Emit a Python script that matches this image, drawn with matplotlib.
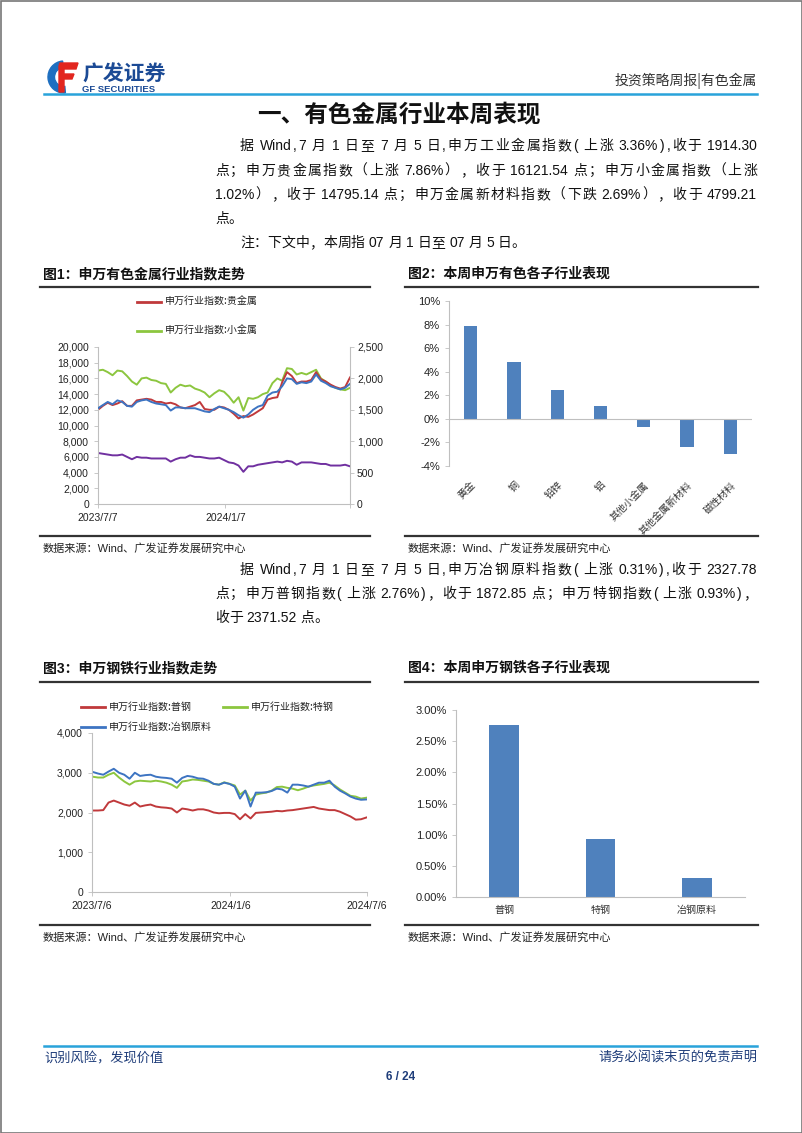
import re
import numpy as np
import pandas as pd
import matplotlib
matplotlib.use("Agg")
import matplotlib.pyplot as plt
from matplotlib.lines import Line2D
from matplotlib.patches import Wedge, Polygon, Rectangle
from matplotlib.font_manager import FontProperties
from matplotlib.ticker import FuncFormatter

# ---------------- data ----------------
dates = pd.date_range("2023-07-07", "2024-07-05", freq="7D")

nf_precious = [12000,12500,12900,12600,12800,13100,12500,12500,13200,13300,13400,13300,13000,13000,12800,12900,12700,12300,12200,12400,12600,13000,12100,12000,12000,12400,12300,12000,11500,10900,11200,11100,11400,11800,12200,13300,13500,13600,15500,16800,16300,15400,15600,15600,15800,16800,15900,15600,15200,14900,14700,14900,16121]
nf_minor = [17000,17100,16800,16400,17000,16900,16300,15600,15200,16000,16100,15800,15700,15400,15300,14200,14800,15200,15000,15100,14700,14500,14200,13600,14100,14500,14300,13700,12900,13600,11900,13500,13400,13600,14000,14200,15400,16000,15700,17300,17200,16500,16700,16500,16800,17100,16000,15600,15100,14800,14600,14500,14795]
nf_industrial = [1525,1575,1625,1588,1650,1625,1563,1550,1625,1650,1663,1625,1600,1588,1575,1488,1538,1538,1525,1525,1525,1500,1475,1463,1513,1550,1525,1500,1463,1413,1375,1425,1500,1550,1575,1725,1775,1788,1875,2000,1988,1913,1938,1925,1950,2063,1963,1925,1875,1850,1825,1850,1914]
nf_newmat = [6500,6400,6300,6200,6200,6300,6000,5700,6000,5900,5900,5800,5800,5800,5800,5400,5700,5900,5900,6200,6000,6000,5900,5800,5800,5900,5600,5300,5200,4900,4100,4800,4800,5000,5100,5200,5300,5400,5300,5500,5400,5000,5300,5300,5300,5200,5100,5100,4900,4900,4900,5000,4799]

st_common = [2050,2050,2060,2250,2300,2250,2200,2170,2250,2150,2180,2200,2150,2130,2120,2100,2000,2100,2080,2050,2080,2080,2050,2000,1980,1990,1990,1960,1830,1960,1850,1990,2000,2010,2020,2040,2030,2050,2060,2080,2100,2120,2140,2100,2080,2060,2060,2020,1960,1900,1820,1830,1873]
st_special = [2900,2880,2880,2950,3000,2880,2780,2700,2780,2800,2790,2780,2800,2780,2750,2700,2620,2780,2800,2830,2820,2800,2780,2720,2700,2760,2720,2680,2450,2550,2300,2450,2480,2500,2550,2640,2650,2620,2600,2560,2600,2650,2680,2700,2720,2750,2680,2580,2500,2420,2400,2350,2371]
st_raw = [3020,2980,2950,3030,3100,3000,2950,2850,3000,2920,2940,2950,2900,2880,2870,2850,2750,2870,2920,2900,2860,2850,2800,2720,2700,2750,2720,2650,2350,2550,2150,2500,2500,2510,2540,2600,2580,2500,2700,2700,2680,2650,2700,2750,2750,2800,2650,2550,2480,2400,2350,2320,2328]

nf_cats = ["黄金", "铜", "铅锌", "铝", "其他小金属", "其他金属新材料", "磁性材料"]
nf_week = [7.90, 4.80, 2.45, 1.05, -0.65, -2.40, -2.95]

st_cats = ["普钢", "特钢", "冶钢原料"]
st_week = [2.76, 0.93, 0.31]

legend1 = ["申万行业指数:贵金属", "申万行业指数:小金属"]
legend3 = ["申万行业指数:普钢", "申万行业指数:特钢", "申万行业指数:冶钢原料"]

# ---------------- setup ----------------
W, H = 802, 1133
fig = plt.figure(figsize=(W / 100, H / 100), dpi=100)
MIX = ["Liberation Sans", "Noto Sans CJK SC"]
CJK = ["Noto Sans CJK SC", "DejaVu Sans"]
plt.rcParams["font.family"] = MIX

RED = "#C0393B"
GREEN = "#8CC63F"
BLUE = "#3D74C2"
PURPLE = "#7030A0"
BAR = "#4F81BD"
GRID = "#BFBFBF"
NAVY = "#1F3D7A"


def T(x, y, s, **kw):
    return fig.text(x / W, 1 - y / H, s, **kw)


def L(x0, y0, x1, y1, **kw):
    fig.add_artist(Line2D([x0 / W, x1 / W], [1 - y0 / H, 1 - y1 / H],
                          transform=fig.transFigure, **kw))


def AX(x0, y0, x1, y1):
    return fig.add_axes([x0 / W, 1 - y1 / H, (x1 - x0) / W, (y1 - y0) / H])


renderer = fig.canvas.get_renderer()


def justify(s, x0, x1, y, size=10, color="#111111"):
    fp = FontProperties(family=MIX, size=size)
    sp = size * 100 / 72 * 0.28
    raw = re.findall(r"[A-Za-z0-9.%]+|\s|.", s)
    toks, pre = [], []
    pending = 0.0
    for t in raw:
        if t.isspace():
            pending += sp
        else:
            toks.append(t)
            pre.append(pending)
            pending = 0.0
    ws = [renderer.get_text_width_height_descent(t, fp, ismath=False)[0] for t in toks]
    total = sum(ws) + sum(pre[1:])
    gap = (x1 - x0 - total) / (len(toks) - 1) if x1 else 0.0
    x = x0
    for i, (t, w) in enumerate(zip(toks, ws)):
        if i > 0:
            x += pre[i] + gap
        T(x, y, t, fontproperties=fp, color=color, va="baseline", ha="left")
        x += w


# ---------------- page frame ----------------
fig.add_artist(Rectangle((0.5 / W, 0.5 / H), (W - 1) / W, (H - 1) / H,
                         transform=fig.transFigure, fill=False, ec="#777777", lw=1.2))

# header
lax = fig.add_axes([45 / W, 1 - 94 / H, 35 / W, 37 / H])
lax.set_xlim(0, 35)
lax.set_ylim(0, 37)
lax.axis("off")
lax.add_patch(Wedge((19, 17), 16, 95, 275, width=6.5, color="#1E6FC0"))
lax.add_patch(Polygon([[15, 31], [33, 31], [31, 25], [19, 25], [19, 20], [29, 20],
                       [27, 15], [19, 15], [19, 2], [14, 2], [14, 28]], color="#E2261F"))
T(82, 81, "广发证券", family=CJK, fontsize=15, weight="bold", color="#1B4A95")
T(82, 92, "GF SECURITIES", family="Liberation Sans", fontsize=6.8, weight="bold", color="#1B4A95")
T(757, 85, "投资策略周报|有色金属", family=CJK, fontsize=10, color="#333333", ha="right")
L(44, 94, 757, 94, color="#29A3DA", lw=1.8)

# section heading
T(399, 121, "一、有色金属行业本周表现", family=CJK, fontsize=17, weight="bold", ha="center", color="#111111")

# paragraph 1
justify("据 Wind,7 月 1 日至 7 月 5 日,申万工业金属指数( 上涨 3.36%),收于 1914.30", 240, 757, 150)
justify("点；申万贵金属指数（上涨 7.86%），收于 16121.54 点；申万小金属指数（上涨", 215, 757, 175)
justify("1.02%），收于 14795.14 点；申万金属新材料指数（下跌 2.69%），收于 4799.21", 215, 757, 199)
justify("点。", 215, None, 223)
justify("注：下文中，本周指 07 月 1 日至 07 月 5 日。", 240, None, 247)

# paragraph 2
justify("据 Wind,7 月 1 日至 7 月 5 日,申万冶钢原料指数( 上涨 0.31%),收于 2327.78", 240, 757, 574)
justify("点；申万普钢指数( 上涨 2.76%)，收于 1872.85 点；申万特钢指数( 上涨 0.93%)，", 215, 757, 598)
justify("收于 2371.52 点。", 215, None, 622)

# chart frames/titles
for (x0, x1, ytitle, yl0, yl1, title) in [
    (40, 370, 278, 287, 536, "图1：申万有色金属行业指数走势"),
    (405, 758, 278, 287, 536, "图2：本周申万有色各子行业表现"),
    (40, 370, 672, 682, 925, "图3：申万钢铁行业指数走势"),
    (405, 758, 672, 682, 925, "图4：本周申万钢铁各子行业表现"),
]:
    T(x0 + 3, ytitle, title, family=MIX, fontsize=10, weight="bold", color="#111111")
    L(x0, yl0, x1, yl0, color="#333333", lw=1.6)
    L(x0, yl1, x1, yl1, color="#333333", lw=1.6)
    T(x0 + 3, yl1 + 16, "数据来源：Wind、广发证券发展研究中心", family=MIX, fontsize=8, color="#222222")

TICK = dict(labelsize=7.5, colors="#222222", length=3, width=0.6)


def style_spines(ax, left=True, right=False, bottom=True):
    for k, v in ax.spines.items():
        v.set_visible(False)
    for k, on in (("left", left), ("right", right), ("bottom", bottom)):
        if on:
            ax.spines[k].set_visible(True)
            ax.spines[k].set_color(GRID)
            ax.spines[k].set_linewidth(0.8)


comma = FuncFormatter(lambda v, p: f"{int(v):,}")

# ---------------- chart 1 ----------------
ax1 = AX(98, 347, 350, 504)
ax1.plot(dates, nf_minor, color=GREEN, lw=1.4)
ax1.plot(dates, nf_precious, color=RED, lw=1.4)
ax1.plot(dates, nf_newmat, color=PURPLE, lw=1.4)
ax1.set_ylim(0, 20000)
ax1.set_yticks(range(0, 20001, 2000))
ax1.yaxis.set_major_formatter(comma)
ax1.set_xlim(pd.Timestamp("2023-07-07"), pd.Timestamp("2024-07-05"))
ax1.set_xticks([pd.Timestamp("2023-07-07"), pd.Timestamp("2024-01-07"), pd.Timestamp("2024-07-05")])
ax1.set_xticklabels(["2023/7/7", "2024/1/7", ""])
ax1.tick_params(axis="both", **TICK)
ax1.tick_params(axis="x", colors=GRID, labelcolor="#222222")
ax1.tick_params(axis="y", colors=GRID, labelcolor="#222222")
style_spines(ax1, left=True, right=False, bottom=True)
ax1.set_facecolor("none")
ax1r = ax1.twinx()
ax1r.plot(dates, nf_industrial, color=BLUE, lw=1.4)
ax1r.set_ylim(0, 2500)
ax1r.set_yticks(range(0, 2501, 500))
ax1r.yaxis.set_major_formatter(comma)
ax1r.tick_params(axis="y", **TICK)
ax1r.tick_params(axis="y", colors=GRID, labelcolor="#222222", pad=2)
style_spines(ax1r, left=False, right=True, bottom=False)

# legend 1
for i, (lab, col) in enumerate(zip(legend1, [RED, GREEN])):
    y = 302 + 29 * i
    L(137, y, 161, y, color=col, lw=2)
    T(165, y, lab, family=CJK, fontsize=7.2, va="center", color="#222222")

# ---------------- chart 2 ----------------
ax2 = AX(449, 301, 752, 466)
x2 = np.arange(len(nf_cats))
ax2.bar(x2, nf_week, width=0.31, color=BAR)
ax2.set_xlim(-0.5, len(nf_cats) - 0.5)
ax2.set_ylim(-4, 10)
ax2.set_yticks(range(-4, 11, 2))
ax2.yaxis.set_major_formatter(FuncFormatter(lambda v, p: f"{int(v)}%"))
ax2.axhline(0, color=GRID, lw=0.8)
ax2.set_xticks(x2)
ax2.set_xticklabels(nf_cats, rotation=45, ha="right", rotation_mode="anchor",
                    family=CJK, fontsize=7.2, color="#333333")
ax2.tick_params(axis="x", length=0, pad=10)
ax2.tick_params(axis="y", labelsize=8, colors=GRID, labelcolor="#222222", length=3, width=0.6)
style_spines(ax2, left=True, bottom=False)

# ---------------- chart 3 ----------------
ax3 = AX(92, 733, 367, 892)
ax3.plot(dates, st_common, color=RED, lw=1.4)
ax3.plot(dates, st_special, color=GREEN, lw=1.4)
ax3.plot(dates, st_raw, color=BLUE, lw=1.4)
ax3.set_ylim(0, 4000)
ax3.set_yticks(range(0, 4001, 1000))
ax3.yaxis.set_major_formatter(comma)
ax3.set_xlim(pd.Timestamp("2023-07-06"), pd.Timestamp("2024-07-06"))
ax3.set_xticks([pd.Timestamp("2023-07-06"), pd.Timestamp("2024-01-06"), pd.Timestamp("2024-07-06")])
ax3.set_xticklabels(["2023/7/6", "2024/1/6", "2024/7/6"])
ax3.tick_params(axis="both", **TICK)
ax3.tick_params(axis="both", colors=GRID, labelcolor="#222222")
style_spines(ax3, left=True, bottom=True)
ax3.set_facecolor("none")

for (lab, col, x, y) in zip(legend3, [RED, GREEN, BLUE], [81, 223, 81], [707, 707, 727]):
    L(x, y, x + 24, y, color=col, lw=2)
    T(x + 28, y, lab, family=CJK, fontsize=7.2, va="center", color="#222222")

# ---------------- chart 4 ----------------
ax4 = AX(456, 710, 745, 897)
x4 = np.arange(len(st_cats))
ax4.bar(x4, st_week, width=0.31, color=BAR)
ax4.set_xlim(-0.5, len(st_cats) - 0.5)
ax4.set_ylim(0, 3)
ax4.set_yticks(np.arange(0, 3.01, 0.5))
ax4.yaxis.set_major_formatter(FuncFormatter(lambda v, p: f"{v:.2f}%"))
ax4.set_xticks(x4)
ax4.set_xticklabels(st_cats, family=CJK, fontsize=7.2, color="#333333")
ax4.tick_params(axis="x", length=0, pad=6)
ax4.tick_params(axis="y", labelsize=8, colors=GRID, labelcolor="#222222", length=3, width=0.6)
style_spines(ax4, left=True, bottom=True)

# ---------------- footer ----------------
L(44, 1046, 757, 1046, color="#29A3DA", lw=1.8)
T(44, 1062, "识别风险，发现价值", family=CJK, fontsize=9.5, color=NAVY)
T(757, 1062, "请务必阅读末页的免责声明", family=CJK, fontsize=9.5, color=NAVY, ha="right")
T(401, 1080, "6 / 24", family="Liberation Sans", fontsize=8.5, weight="bold", color=NAVY, ha="center")

fig.savefig("out.png", dpi=100)
